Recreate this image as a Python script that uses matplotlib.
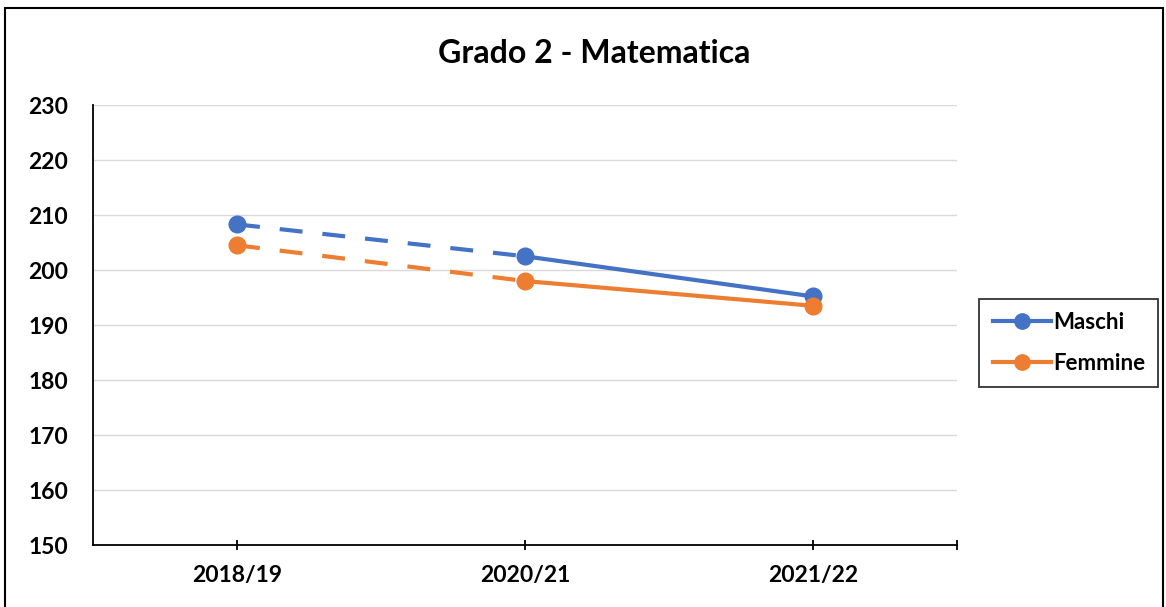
import matplotlib
matplotlib.use("Agg")
import matplotlib.pyplot as plt
from matplotlib.lines import Line2D
from matplotlib.patches import Rectangle

plt.rcParams['font.family'] = ['Lato', 'DejaVu Sans']

anni = ["2018/19", "2020/21", "2021/22"]
maschi = [208.3, 202.5, 195.2]
femmine = [204.5, 198.0, 193.5]
y_ticks = [150, 160, 170, 180, 190, 200, 210, 220, 230]

blu = "#4472C4"
arancio = "#ED7D31"

fig = plt.figure(figsize=(11.66, 6.07), dpi=100)
ax = fig.add_axes([0.0798, 0.102, 0.741, 0.725])

x = list(range(len(anni)))
for serie, col in [(maschi, blu), (femmine, arancio)]:
    # primo tratto tratteggiato, poi continuo
    ax.plot(x[:2], serie[:2], color=col, lw=3, ls=(0, (5.5, 4.8)), zorder=3)
    ax.plot(x[1:], serie[1:], color=col, lw=3, zorder=3)
    ax.plot(x, serie, ls="none", marker="o", ms=12, color=col, zorder=4)

ax.set_xlim(-0.5, 2.5)
ax.set_ylim(150, 230)
ax.set_yticks(y_ticks)
ax.set_yticklabels([str(v) for v in y_ticks], fontsize=16.5, fontweight="bold")
ax.set_xticks(x + [2.5])
ax.set_xticklabels(anni + [""], fontsize=16.5, fontweight="bold")
ax.tick_params(axis="y", length=0, pad=18)
ax.tick_params(axis="x", length=7, direction="inout", width=1.3, pad=11)
ax.yaxis.grid(True, color="#d9d9d9", lw=1)
ax.set_axisbelow(True)
for s in ["top", "right"]:
    ax.spines[s].set_visible(False)
ax.spines["left"].set_linewidth(1.3)
ax.spines["bottom"].set_linewidth(1.3)

fig.text(0.51, 0.912, "Grado 2 - Matematica", ha="center", va="center",
         fontsize=23, fontweight="bold")

handles = [Line2D([], [], color=blu, lw=3, marker="o", ms=11),
           Line2D([], [], color=arancio, lw=3, marker="o", ms=11)]
leg = fig.legend(handles, ["Maschi", "Femmine"], loc="center left",
                 bbox_to_anchor=(0.84, 0.435), frameon=True, fancybox=False,
                 edgecolor="black", handlelength=2.6, handletextpad=0.1,
                 borderpad=0.6, labelspacing=0.9, borderaxespad=0,
                 prop={"size": 16, "weight": "bold"})
leg.get_frame().set_linewidth(1.3)

fig.patches.append(Rectangle((0.004, -0.01), 0.993, 0.997, transform=fig.transFigure,
                             fill=False, edgecolor="black", lw=1.5))

fig.savefig("out.png", dpi=100)
plt.close()
